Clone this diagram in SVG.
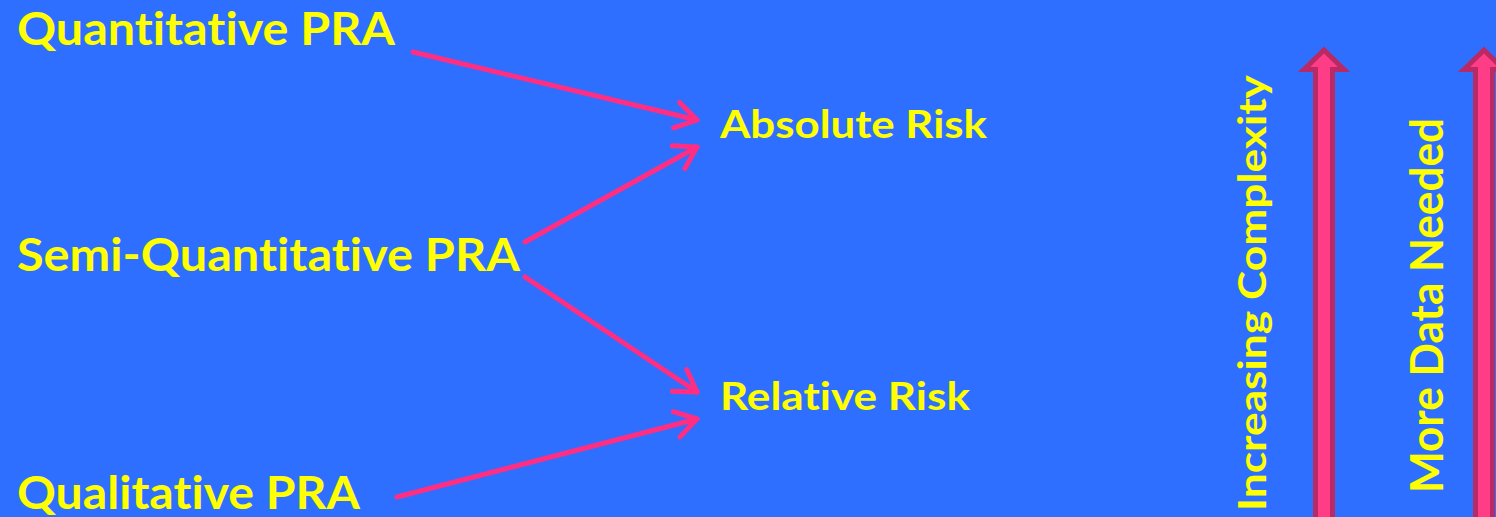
<svg xmlns="http://www.w3.org/2000/svg" width="1496" height="517" viewBox="0 0 1496 517">
  <style>
    .lbl { font-family: Lato, "Open Sans", "Liberation Sans", sans-serif; font-weight: bold; fill: #FFFF00; font-variant-ligatures: none; font-feature-settings: "liga" 0, "clig" 0; }
    .big { font-size: 46px; }
    .mid { font-size: 39px; }
    .conn { stroke: #FF2E82; stroke-width: 5; fill: none; stroke-linecap: round; }
    .bigarrow { fill: #FF3D87; stroke: #B92A64; stroke-width: 5; stroke-linejoin: miter; }
  </style>
  <defs>
    <marker id="head" markerUnits="userSpaceOnUse" viewBox="-26 -16 30 32" refX="0" refY="0" markerWidth="30" markerHeight="32" orient="auto">
      <path d="M-21,-13 L0,0 L-21,13" fill="none" stroke="#FF2E82" stroke-width="5" stroke-linecap="round" stroke-linejoin="round"/>
    </marker>
  </defs>
  <rect x="0" y="0" width="1496" height="517" fill="#2E6FFF"/>

  <g id="connectors">
    <line class="conn" x1="413" y1="52" x2="697" y2="120" marker-end="url(#head)"/>
    <line class="conn" x1="525" y1="242" x2="697" y2="147" marker-end="url(#head)"/>
    <line class="conn" x1="525" y1="277" x2="697" y2="392" marker-end="url(#head)"/>
    <line class="conn" x1="397" y1="497" x2="697" y2="419" marker-end="url(#head)"/>
  </g>

  <g id="node-quantitative">
    <text class="lbl big" x="17" y="45" textLength="378" lengthAdjust="spacingAndGlyphs">Quantitative PRA</text>
  </g>
  <g id="node-semi">
    <text class="lbl big" x="17" y="271" textLength="503" lengthAdjust="spacingAndGlyphs">Semi-Quantitative PRA</text>
  </g>
  <g id="node-qualitative">
    <text class="lbl big" x="17" y="509" textLength="343" lengthAdjust="spacingAndGlyphs">Qualitative PRA</text>
  </g>
  <g id="node-absolute">
    <text class="lbl mid" x="720" y="138" textLength="267" lengthAdjust="spacingAndGlyphs">Absolute Risk</text>
  </g>
  <g id="node-relative">
    <text class="lbl mid" x="720" y="410" textLength="250" lengthAdjust="spacingAndGlyphs">Relative Risk</text>
  </g>

  <g id="axis-complexity">
    <text class="lbl mid" transform="translate(1266,511) rotate(-90)" x="0" y="0" textLength="436" lengthAdjust="spacingAndGlyphs">Increasing Complexity</text>
    <polygon class="bigarrow" points="1315.5,522 1315.5,69.5 1304,69.5 1324,50 1344,69.5 1332.5,69.5 1332.5,522"/>
  </g>
  <g id="axis-data">
    <text class="lbl big" transform="translate(1443,493) rotate(-90)" x="0" y="0" textLength="375" lengthAdjust="spacingAndGlyphs">More Data Needed</text>
    <polygon class="bigarrow" points="1475.5,522 1475.5,69.5 1464,69.5 1484,50 1504,69.5 1492.5,69.5 1492.5,522"/>
  </g>
</svg>
